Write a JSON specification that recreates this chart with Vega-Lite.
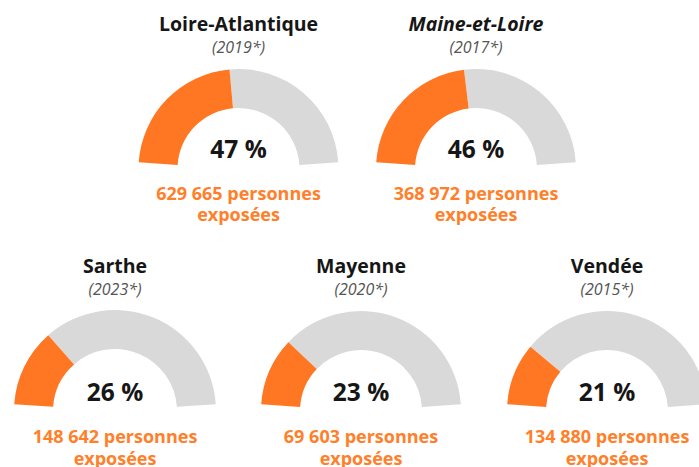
{
  "$schema": "https://vega.github.io/schema/vega-lite/v6.json",
  "padding": {"left": 0, "right": 0, "top": 15, "bottom": 0},
  "background": "white",
  "spacing": 28,
  "center": true,
  "data": {"values": [
    {"departement": "Loire-Atlantique", "annee": "2019*", "part": 47, "personnes": 629665},
    {"departement": "Maine-et-Loire", "annee": "2017*", "part": 46, "personnes": 368972},
    {"departement": "Sarthe", "annee": "2023*", "part": 26, "personnes": 148642},
    {"departement": "Mayenne", "annee": "2020*", "part": 23, "personnes": 69603},
    {"departement": "Vendée", "annee": "2015*", "part": 21, "personnes": 134880}
  ]},
  "transform": [
    {"calculate": "'(' + datum.annee + ')'", "as": "annee_label"},
    {"calculate": "datum.part + ' %'", "as": "part_label"},
    {"calculate": "format(datum.personnes, ',d') + ' personnes'", "as": "personnes_label"}
  ],
  "vconcat": [
    {
      "spacing": 0,
      "hconcat": [
        {
          "width": 230, "height": 120,
          "transform": [{"filter": {"field": "departement", "equal": "Loire-Atlantique"}}],
          "layer": [
            {"mark": {"type": "arc", "radius": 100, "radius2": 61, "color": "#d9d9d9"},
             "encoding": {"theta": {"field": "part", "type": "quantitative", "stack": null, "scale": {"domain": [0, 100], "range": [-1.5038, 1.5038]}}, "theta2": {"datum": 100}}},
            {"mark": {"type": "arc", "radius": 100, "radius2": 61, "color": "#ff7722"},
             "encoding": {"theta": {"field": "part", "type": "quantitative", "stack": null, "scale": {"domain": [0, 100], "range": [-1.5038, 1.5038]}}, "theta2": {"datum": 0}}},
            {"mark": {"type": "text", "dy": -138, "baseline": "alphabetic", "fontSize": 19.5, "fontWeight": "bold", "color": "#161616"},
             "encoding": {"text": {"field": "departement"}}},
            {"mark": {"type": "text", "dy": -116, "baseline": "alphabetic", "fontSize": 16, "fontStyle": "italic", "color": "#555555"},
             "encoding": {"text": {"field": "annee_label"}}},
            {"mark": {"type": "text", "dy": -11, "baseline": "alphabetic", "fontSize": 24.5, "fontWeight": "bold", "color": "#161616"},
             "encoding": {"text": {"field": "part_label"}}},
            {"mark": {"type": "text", "dy": 31, "baseline": "alphabetic", "fontSize": 18, "fontWeight": "bold", "color": "#ff7f2a"},
             "encoding": {"text": {"field": "personnes_label"}}},
            {"mark": {"type": "text", "dy": 52, "baseline": "alphabetic", "fontSize": 18, "fontWeight": "bold", "color": "#ff7f2a"},
             "encoding": {"text": {"value": "exposées"}}}
          ]
        },
        {
          "width": 245, "height": 120,
          "transform": [{"filter": {"field": "departement", "equal": "Maine-et-Loire"}}],
          "layer": [
            {"mark": {"type": "arc", "radius": 100, "radius2": 61, "color": "#d9d9d9"},
             "encoding": {"theta": {"field": "part", "type": "quantitative", "stack": null, "scale": {"domain": [0, 100], "range": [-1.5038, 1.5038]}}, "theta2": {"datum": 100}}},
            {"mark": {"type": "arc", "radius": 100, "radius2": 61, "color": "#ff7722"},
             "encoding": {"theta": {"field": "part", "type": "quantitative", "stack": null, "scale": {"domain": [0, 100], "range": [-1.5038, 1.5038]}}, "theta2": {"datum": 0}}},
            {"mark": {"type": "text", "dy": -138, "baseline": "alphabetic", "fontSize": 19.5, "fontWeight": "bold", "fontStyle": "italic", "color": "#161616"},
             "encoding": {"text": {"field": "departement"}}},
            {"mark": {"type": "text", "dy": -116, "baseline": "alphabetic", "fontSize": 16, "fontStyle": "italic", "color": "#555555"},
             "encoding": {"text": {"field": "annee_label"}}},
            {"mark": {"type": "text", "dy": -11, "baseline": "alphabetic", "fontSize": 24.5, "fontWeight": "bold", "color": "#161616"},
             "encoding": {"text": {"field": "part_label"}}},
            {"mark": {"type": "text", "dy": 31, "baseline": "alphabetic", "fontSize": 18, "fontWeight": "bold", "color": "#ff7f2a"},
             "encoding": {"text": {"field": "personnes_label"}}},
            {"mark": {"type": "text", "dy": 52, "baseline": "alphabetic", "fontSize": 18, "fontWeight": "bold", "color": "#ff7f2a"},
             "encoding": {"text": {"value": "exposées"}}}
          ]
        }
      ]
    },
    {
      "spacing": 16,
      "hconcat": [
        {
          "width": 230, "height": 120,
          "transform": [{"filter": {"field": "departement", "equal": "Sarthe"}}],
          "layer": [
            {"mark": {"type": "arc", "radius": 101, "radius2": 62, "color": "#d9d9d9"},
             "encoding": {"theta": {"field": "part", "type": "quantitative", "stack": null, "scale": {"domain": [0, 100], "range": [-1.5038, 1.5038]}}, "theta2": {"datum": 100}}},
            {"mark": {"type": "arc", "radius": 101, "radius2": 62, "color": "#ff7722"},
             "encoding": {"theta": {"field": "part", "type": "quantitative", "stack": null, "scale": {"domain": [0, 100], "range": [-1.5038, 1.5038]}}, "theta2": {"datum": 0}}},
            {"mark": {"type": "text", "dy": -138, "baseline": "alphabetic", "fontSize": 19.5, "fontWeight": "bold", "color": "#161616"},
             "encoding": {"text": {"field": "departement"}}},
            {"mark": {"type": "text", "dy": -116, "baseline": "alphabetic", "fontSize": 16, "fontStyle": "italic", "color": "#555555"},
             "encoding": {"text": {"field": "annee_label"}}},
            {"mark": {"type": "text", "dy": -10, "baseline": "alphabetic", "fontSize": 24.5, "fontWeight": "bold", "color": "#161616"},
             "encoding": {"text": {"field": "part_label"}}},
            {"mark": {"type": "text", "dy": 32, "baseline": "alphabetic", "fontSize": 18, "fontWeight": "bold", "color": "#ff7f2a"},
             "encoding": {"text": {"field": "personnes_label"}}},
            {"mark": {"type": "text", "dy": 54, "baseline": "alphabetic", "fontSize": 18, "fontWeight": "bold", "color": "#ff7f2a"},
             "encoding": {"text": {"value": "exposées"}}}
          ]
        },
        {
          "width": 230, "height": 120,
          "transform": [{"filter": {"field": "departement", "equal": "Mayenne"}}],
          "layer": [
            {"mark": {"type": "arc", "radius": 100, "radius2": 61, "color": "#d9d9d9"},
             "encoding": {"theta": {"field": "part", "type": "quantitative", "stack": null, "scale": {"domain": [0, 100], "range": [-1.5038, 1.5038]}}, "theta2": {"datum": 100}}},
            {"mark": {"type": "arc", "radius": 100, "radius2": 61, "color": "#ff7722"},
             "encoding": {"theta": {"field": "part", "type": "quantitative", "stack": null, "scale": {"domain": [0, 100], "range": [-1.5038, 1.5038]}}, "theta2": {"datum": 0}}},
            {"mark": {"type": "text", "dy": -138, "baseline": "alphabetic", "fontSize": 19.5, "fontWeight": "bold", "color": "#161616"},
             "encoding": {"text": {"field": "departement"}}},
            {"mark": {"type": "text", "dy": -116, "baseline": "alphabetic", "fontSize": 16, "fontStyle": "italic", "color": "#555555"},
             "encoding": {"text": {"field": "annee_label"}}},
            {"mark": {"type": "text", "dy": -10, "baseline": "alphabetic", "fontSize": 24.5, "fontWeight": "bold", "color": "#161616"},
             "encoding": {"text": {"field": "part_label"}}},
            {"mark": {"type": "text", "dy": 32, "baseline": "alphabetic", "fontSize": 18, "fontWeight": "bold", "color": "#ff7f2a"},
             "encoding": {"text": {"field": "personnes_label"}}},
            {"mark": {"type": "text", "dy": 54, "baseline": "alphabetic", "fontSize": 18, "fontWeight": "bold", "color": "#ff7f2a"},
             "encoding": {"text": {"value": "exposées"}}}
          ]
        },
        {
          "width": 230, "height": 120,
          "transform": [{"filter": {"field": "departement", "equal": "Vendée"}}],
          "layer": [
            {"mark": {"type": "arc", "radius": 100, "radius2": 61, "color": "#d9d9d9"},
             "encoding": {"theta": {"field": "part", "type": "quantitative", "stack": null, "scale": {"domain": [0, 100], "range": [-1.5038, 1.5038]}}, "theta2": {"datum": 100}}},
            {"mark": {"type": "arc", "radius": 100, "radius2": 61, "color": "#ff7722"},
             "encoding": {"theta": {"field": "part", "type": "quantitative", "stack": null, "scale": {"domain": [0, 100], "range": [-1.5038, 1.5038]}}, "theta2": {"datum": 0}}},
            {"mark": {"type": "text", "dy": -138, "baseline": "alphabetic", "fontSize": 19.5, "fontWeight": "bold", "color": "#161616"},
             "encoding": {"text": {"field": "departement"}}},
            {"mark": {"type": "text", "dy": -116, "baseline": "alphabetic", "fontSize": 16, "fontStyle": "italic", "color": "#555555"},
             "encoding": {"text": {"field": "annee_label"}}},
            {"mark": {"type": "text", "dy": -10, "baseline": "alphabetic", "fontSize": 24.5, "fontWeight": "bold", "color": "#161616"},
             "encoding": {"text": {"field": "part_label"}}},
            {"mark": {"type": "text", "dy": 32, "baseline": "alphabetic", "fontSize": 18, "fontWeight": "bold", "color": "#ff7f2a"},
             "encoding": {"text": {"field": "personnes_label"}}},
            {"mark": {"type": "text", "dy": 54, "baseline": "alphabetic", "fontSize": 18, "fontWeight": "bold", "color": "#ff7f2a"},
             "encoding": {"text": {"value": "exposées"}}}
          ]
        }
      ]
    }
  ],
  "config": {
    "view": {"stroke": null},
    "font": "Open Sans",
    "locale": {"number": {"decimal": ",", "thousands": " ", "grouping": [3], "currency": ["", " €"]}}
  }
}
